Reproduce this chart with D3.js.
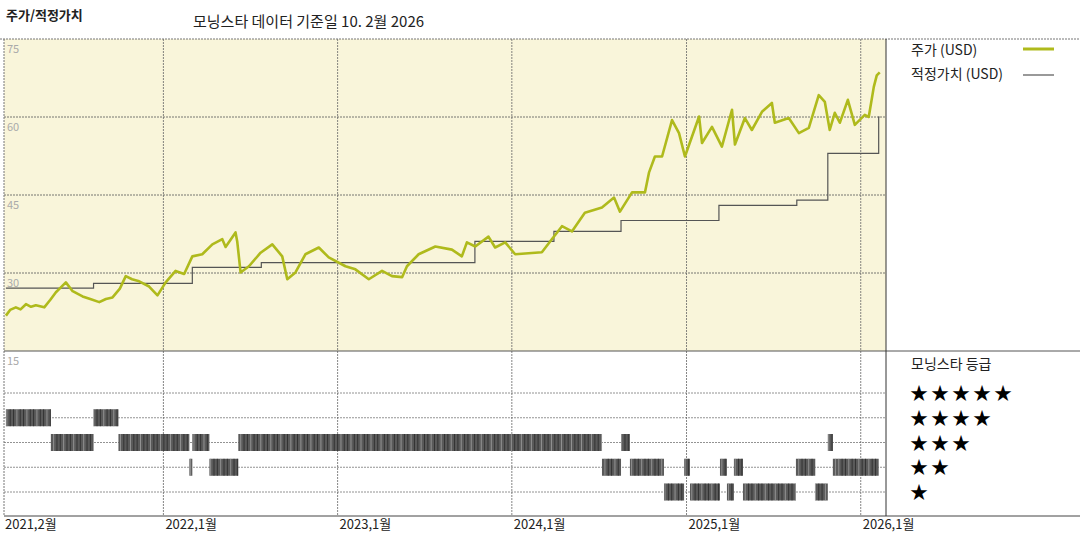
<!DOCTYPE html>
<html><head><meta charset="utf-8">
<script src="https://cdn.jsdelivr.net/npm/d3@7"></script>
<style>body{margin:0;background:#fff}text{font-family:"Noto Sans CJK KR","DejaVu Sans",sans-serif}</style>
</head><body>
<script>
// price (USD) at decimal-year dates
const priceT = [2021.096,2021.12,2021.153,2021.18,2021.211,2021.24,2021.268,2021.316,2021.35,2021.383,2021.41,2021.440,2021.479,2021.536,2021.58,2021.632,2021.67,2021.708,2021.75,2021.784,2021.82,2021.861,2021.918,2021.966,2022.013,2022.070,2022.119,2022.166,2022.223,2022.281,2022.338,2022.357,2022.414,2022.424,2022.443,2022.491,2022.558,2022.625,2022.682,2022.711,2022.758,2022.815,2022.892,2022.949,2023.045,2023.102,2023.179,2023.255,2023.312,2023.370,2023.398,2023.465,2023.561,2023.656,2023.713,2023.742,2023.790,2023.866,2023.904,2023.962,2024.019,2024.172,2024.229,2024.287,2024.344,2024.418,2024.516,2024.585,2024.619,2024.688,2024.762,2024.785,2024.819,2024.860,2024.917,2024.957,2024.991,2025.032,2025.072,2025.089,2025.146,2025.203,2025.261,2025.278,2025.335,2025.375,2025.433,2025.490,2025.507,2025.587,2025.645,2025.702,2025.759,2025.794,2025.822,2025.851,2025.880,2025.926,2025.966,2026.023,2026.046,2026.075,2026.092,2026.109];
const priceV = [21.8,22.9,23.4,23.0,24.0,23.5,23.8,23.4,24.8,26.3,27.2,28.2,26.5,25.5,25.0,24.4,25.0,25.3,27.0,29.4,28.8,28.4,27.4,25.7,28.2,30.4,29.8,33.2,33.6,35.5,36.5,35.0,37.8,36.0,30.1,31.3,33.9,35.5,33.2,28.8,30.1,33.6,34.9,33.0,31.3,30.7,28.8,30.4,29.4,29.2,31.3,33.6,35.1,34.5,33.2,35.9,35.1,37.0,34.9,35.9,33.6,34.0,36.5,39.0,38.0,41.6,42.6,44.5,41.8,45.5,45.5,49.3,52.4,52.4,59.4,56.9,52.4,56.3,60.1,55.0,58.1,54.3,61.4,54.7,59.8,57.5,61.0,62.7,58.9,59.8,56.9,57.9,64.2,62.9,57.5,60.8,58.9,63.3,58.5,60.4,60.0,65.8,68.0,68.6];
// fair value (USD) steps
const fairT = [2021.096,2021.599,2022.166,2022.562,2023.788,2024.241,2024.625,2025.186,2025.633,2025.811,2026.103,2026.109];
const fairV = [27.1,28.0,31.1,32.0,36.1,38.0,40.1,43.0,44.0,53.0,60.0,60.0];
// star rating periods
const rateStart = [2021.096,2021.599,2021.354,2021.742,2022.166,2022.430,2024.625,2025.811,2022.149,2022.264,2024.516,2024.676,2024.986,2025.192,2025.272,2025.628,2025.840,2025.857,2024.871,2025.020,2025.232,2025.324,2025.739];
const rateEnd   = [2021.354,2021.742,2021.599,2022.149,2022.264,2024.516,2024.676,2025.840,2022.166,2022.430,2024.625,2024.871,2025.020,2025.232,2025.324,2025.739,2025.857,2026.103,2024.986,2025.192,2025.272,2025.628,2025.811];
const rateStars = [4,4,3,3,3,3,3,3,2,2,2,2,2,2,2,2,2,2,1,1,1,1,1];
const yTicks = [75,60,45,30,15];
const xTickDates = [2022,2023,2024,2025,2026];
const xTickLabels = ["2022,1월","2023,1월","2024,1월","2025,1월","2026,1월"];

const toDate = y => { const yr = Math.floor(y); const s = new Date(yr,0,1), e = new Date(yr+1,0,1); return new Date(+s + (y-yr)*(e-s)); };

const W = 1080, H = 540, L = 4, R = 886, T = 39, B = 351, axisY = 516;
const svg = d3.select("body").append("svg").attr("width", W).attr("height", H);

const x = d3.scaleTime().domain([toDate(2021.085), toDate(2026.145)]).range([L, R]);
const y = d3.scaleLinear().domain([15, 75]).range([B, T]);
const yr = d3.scaleLinear().domain([5, 1]).range([393, 492]);

svg.append("rect").attr("x", L).attr("y", T).attr("width", R - L).attr("height", B - T).attr("fill", "#f9f5da");

const dash = "2,1";
// horizontal grid (price panel)
svg.selectAll(".hg").data(yTicks.slice(1, 4)).enter().append("line")
  .attr("x1", L).attr("x2", R).attr("y1", d => y(d)).attr("y2", d => y(d))
  .attr("stroke", "#555").attr("stroke-dasharray", dash).attr("stroke-width", 0.8);
// rating rows
svg.selectAll(".rg").data([5,4,3,2,1]).enter().append("line")
  .attr("x1", L).attr("x2", R).attr("y1", d => yr(d)).attr("y2", d => yr(d))
  .attr("stroke", "#777").attr("stroke-dasharray", dash).attr("stroke-width", 0.8);
// vertical grid
svg.selectAll(".vg").data(xTickDates).enter().append("line")
  .attr("x1", d => x(toDate(d))).attr("x2", d => x(toDate(d))).attr("y1", T).attr("y2", axisY)
  .attr("stroke", "#666").attr("stroke-dasharray", dash).attr("stroke-width", 0.8);
svg.append("line").attr("x1", L).attr("x2", L).attr("y1", T).attr("y2", axisY)
  .attr("stroke", "#777").attr("stroke-dasharray", dash);
// frame
svg.append("line").attr("x1", 0).attr("x2", W).attr("y1", T).attr("y2", T).attr("stroke", "#777").attr("stroke-dasharray", dash);
svg.append("line").attr("x1", L).attr("x2", W).attr("y1", B).attr("y2", B).attr("stroke", "#555");
svg.append("line").attr("x1", L).attr("x2", W).attr("y1", axisY).attr("y2", axisY).attr("stroke", "#444");
svg.append("line").attr("x1", R).attr("x2", R).attr("y1", T).attr("y2", axisY).attr("stroke", "#333");

// y tick labels
svg.selectAll(".yl").data(yTicks).enter().append("text")
  .attr("x", 7).attr("y", d => y(d) + 14).text(d => d)
  .attr("font-size", 11).attr("fill", "#aaa");

// x tick labels
svg.append("text").attr("x", 5).attr("y", 529).text("2021,2월").attr("font-size", 13).attr("fill", "#222");
svg.selectAll(".xl").data(xTickDates).enter().append("text")
  .attr("x", d => x(toDate(d)) + 2).attr("y", 529).text((d, i) => xTickLabels[i])
  .attr("font-size", 13).attr("fill", "#222");

// fair value
const fair = fairT.map((t, i) => [toDate(t), fairV[i]]);
svg.append("path").datum(fair)
  .attr("d", d3.line().x(d => x(d[0])).y(d => y(d[1])).curve(d3.curveStepAfter))
  .attr("fill", "none").attr("stroke", "#555").attr("stroke-width", 1.2);

// price
const price = priceT.map((t, i) => [toDate(t), priceV[i]]);
svg.append("path").datum(price)
  .attr("d", d3.line().x(d => x(d[0])).y(d => y(d[1])))
  .attr("fill", "none").attr("stroke", "#afba1c").attr("stroke-width", 2.6).attr("stroke-linejoin", "round");

// rating bars
const rg = svg.append("g");
rateStars.forEach((s, i) => {
  const x0 = x(toDate(rateStart[i])), x1 = x(toDate(rateEnd[i]));
  rg.append("rect").attr("x", x0).attr("y", yr(s) - 8.5).attr("width", Math.max(1.5, x1 - x0)).attr("height", 17).attr("fill", "#5a5a5a");
  const weeks = d3.timeWeek.range(toDate(rateStart[i]), toDate(rateEnd[i]));
  rg.selectAll(null).data(weeks).enter().append("line")
    .attr("x1", d => x(d)).attr("x2", d => x(d)).attr("y1", yr(s) - 8.5).attr("y2", yr(s) + 8.5)
    .attr("stroke", (d, j) => j % 3 === 0 ? "#aaa" : "#222").attr("stroke-width", 0.7);
});

// titles
svg.append("text").attr("x", 6).attr("y", 20).text("주가/적정가치").attr("font-size", 13).attr("font-weight", "bold").attr("fill", "#222");
svg.append("text").attr("x", 193).attr("y", 27).text("모닝스타 데이터 기준일 10. 2월 2026").attr("font-size", 15).attr("fill", "#222");

// legend
svg.append("text").attr("x", 911).attr("y", 55).text("주가 (USD)").attr("font-size", 14).attr("fill", "#222");
svg.append("line").attr("x1", 1023).attr("x2", 1054).attr("y1", 49).attr("y2", 49).attr("stroke", "#afba1c").attr("stroke-width", 3);
svg.append("text").attr("x", 911).attr("y", 79).text("적정가치 (USD)").attr("font-size", 14).attr("fill", "#222");
svg.append("line").attr("x1", 1023).attr("x2", 1054).attr("y1", 75).attr("y2", 75).attr("stroke", "#555").attr("stroke-width", 1.2);
svg.append("text").attr("x", 911).attr("y", 369).text("모닝스타 등급").attr("font-size", 14).attr("fill", "#222");
svg.selectAll(".st").data([5,4,3,2,1]).enter().append("text")
  .attr("x", 910).attr("y", d => yr(d) + 7).text(d => "★".repeat(d))
  .attr("font-size", 18).attr("letter-spacing", 3).attr("fill", "#000").attr("font-family", "DejaVu Sans");
</script>
</body></html>
